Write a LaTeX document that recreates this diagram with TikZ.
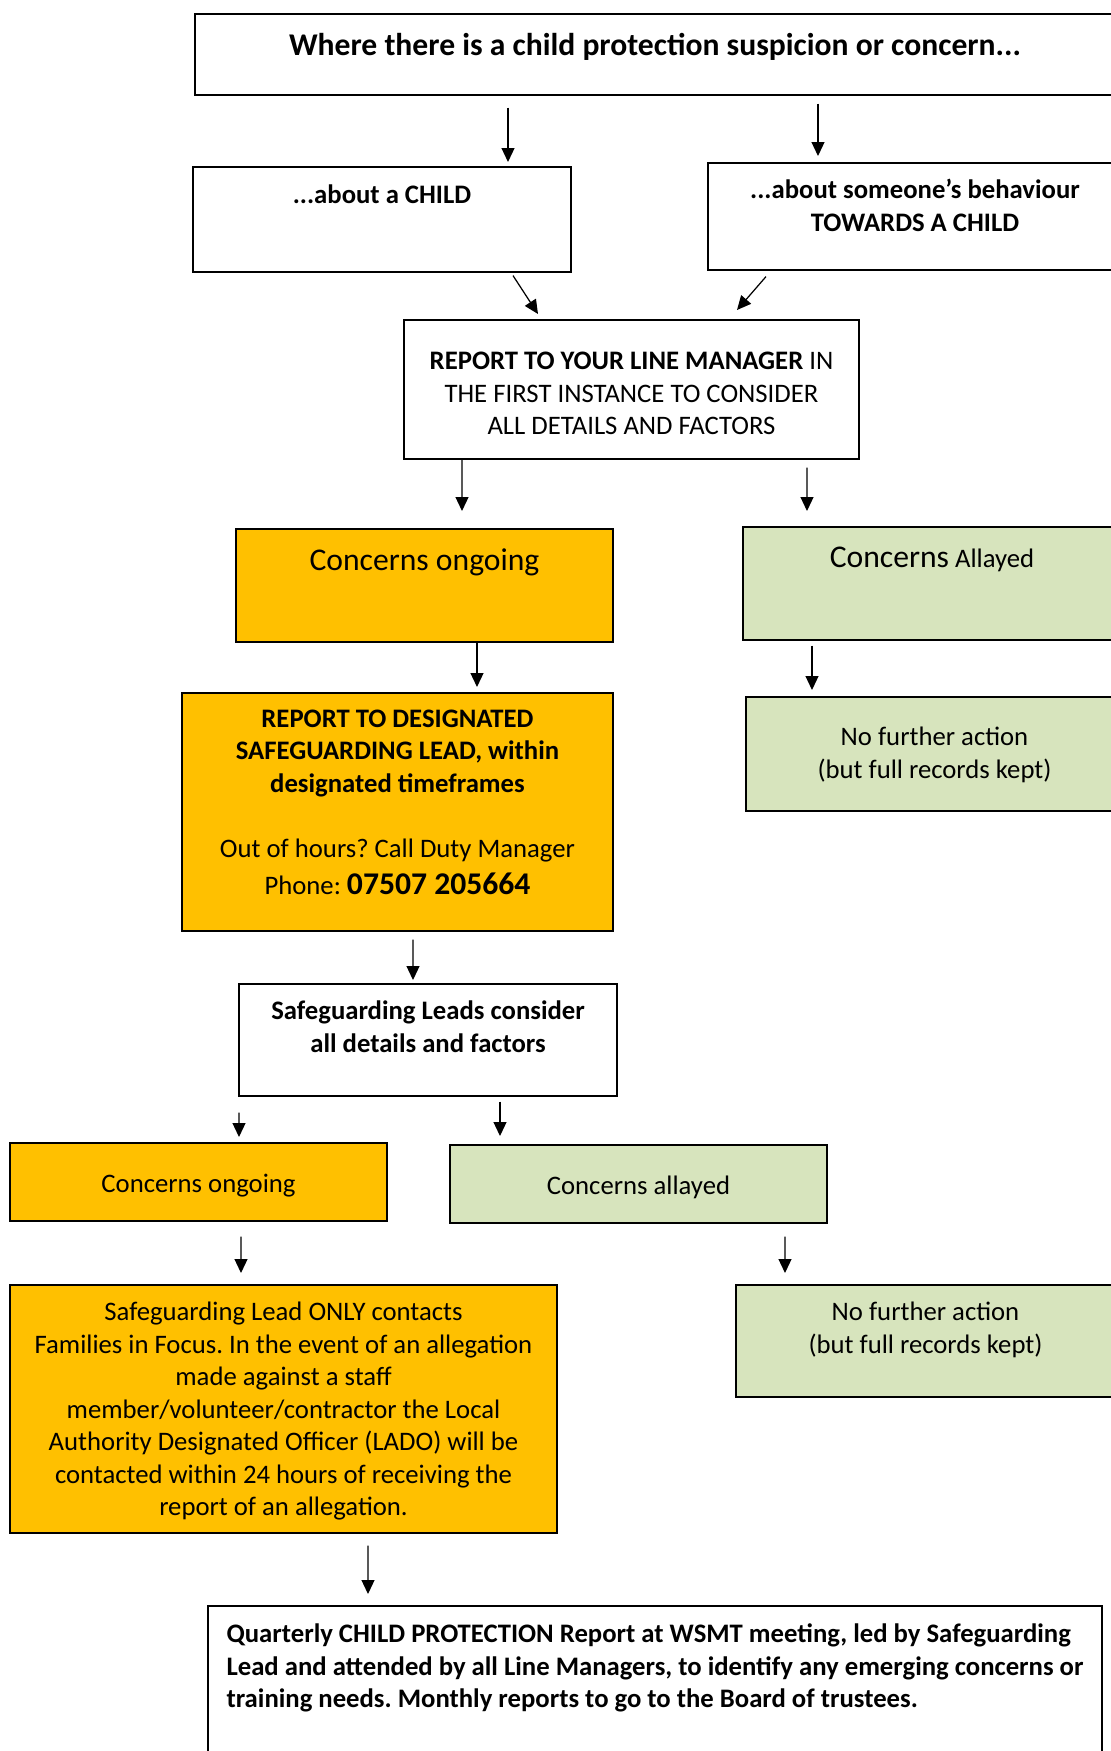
\documentclass[tikz,border=0pt]{standalone}
\usepackage{fontspec}
\setmainfont{Carlito}
\usetikzlibrary{arrows.meta, calc}
\definecolor{SafeOrange}{HTML}{FFC000}
\definecolor{SafeGreen}{HTML}{D7E4BD}
\newlength{\px}
\setlength{\px}{0.02cm}
\newcommand{\bodyfont}{\fontsize{15.2pt}{18.5pt}\selectfont}
\newcommand{\bigfont}{\fontsize{18pt}{22pt}\selectfont}
\newcommand{\titlefont}{\fontsize{18pt}{22pt}\selectfont}
\frenchspacing
\tikzset{
    % Box styles with sharp corners
    box/.style={
        rectangle,
        draw=black,
        fill=white,
        line width=0.9pt,
        inner xsep=4pt,
        inner ysep=0pt,
        anchor=north,
        align=center,
        font=\bodyfont
    },
    box orange/.style={
        box,
        fill=SafeOrange
    },
    box green/.style={
        box,
        fill=SafeGreen
    },
    arrow style/.style={
        -{Triangle[length=0.28cm, width=0.26cm]},
        line width=0.7pt,
        black
    }
}
\begin{document}
\begin{tikzpicture}[x=0.02cm, y=-0.02cm]
        \useasboundingbox (0,0) rectangle (1111,1751);

        % First report
        \node[box, minimum width=920\px, text height=42\px, text depth=39\px, font=\titlefont\bfseries] (suspicion) at (655,13) {Where there is a child protection suspicion or concern...};

        \node[box, minimum width=378\px, text height=37\px, text depth=68\px, font=\bodyfont\bfseries] (child) at (382,166) {...about a CHILD};
        \node[box, minimum width=414\px, text height=68.5\px, text depth=38.5\px, font=\bodyfont\bfseries] (behaviour) at (915,162) {...about someone’s behaviour\\TOWARDS A CHILD};
        \node[box, minimum width=455\px, text height=115\px, text depth=24\px] (linemanager) at (631.5,319) {\textbf{REPORT TO YOUR LINE MANAGER} IN\\THE FIRST INSTANCE TO CONSIDER\\ALL DETAILS AND FACTORS};

        \draw[arrow style] ($(suspicion.south)+(-147,12)$) -- ($(child.north)+(126,-4)$);
        \draw[arrow style] ($(suspicion.south)+(163,8)$) -- ($(behaviour.north)+(-97,-6)$);
        \draw[arrow style] ($(child.south)+(131,3)$) -- ($(linemanager.north)+(-93.5,-5)$);
        \draw[arrow style] ($(behaviour.south)+(-149,6)$) -- ($(linemanager.north)+(105.5,-9)$);

        % Line manager outcome
        \node[box orange, minimum width=377\px, text height=42\px, text depth=71\px, font=\bigfont] (ongoing-a) at (424.5,528) {Concerns ongoing};
        \node[box green, minimum width=378\px, text height=41\px, text depth=72\px] (allayed-a) at (932,526) {{\bigfont Concerns} Allayed};
        \node[box orange, minimum width=431\px, text height=202\px, text depth=36\px] (dsl) at (397.5,692) {\textbf{REPORT TO DESIGNATED}\\\textbf{SAFEGUARDING LEAD, within}\\\textbf{designated timeframes}\\[18.5pt]Out of hours? Call Duty Manager\\[3pt]Phone: {\bigfont\bfseries 07507 205664}};
        \node[box green, minimum width=377\px, text height=81.5\px, text depth=32.5\px] (nfa-a) at (934.5,696) {No further action\\(but full records kept)};

        \draw[arrow style] ($(linemanager.south)+(-169.5,0)$) -- ($(ongoing-a.north)+(37.5,-17)$);
        \draw[arrow style] ($(linemanager.south)+(175.5,8)$) -- ($(allayed-a.north)+(-125,-15)$);
        \draw[arrow style] ($(ongoing-a.south)+(52.5,0)$) -- ($(dsl.north)+(79.5,-5)$);
        \draw[arrow style] ($(allayed-a.south)+(-120,5)$) -- ($(nfa-a.north)+(-122.5,-6)$);

        % Safeguarding lead outcome
        \node[box, minimum width=378\px, text height=68.5\px, text depth=43.5\px, font=\bodyfont\bfseries] (leads) at (428,983) {Safeguarding Leads consider\\all details and factors};
        \node[box orange, minimum width=377\px, text height=50\px, text depth=28\px] (ongoing-b) at (198.5,1142) {Concerns ongoing};
        \node[box green, minimum width=377\px, text height=50\px, text depth=28\px] (allayed-b) at (638.5,1144) {Concerns allayed};
        \node[box orange, minimum width=547\px, text height=231\px, text depth=17\px] (lado) at (283.5,1284) {Safeguarding Lead ONLY contacts\\Families in Focus. In the event of an allegation\\made against a staff\\member/volunteer/contractor the Local\\Authority Designated Officer (LADO) will be\\contacted within 24 hours of receiving the\\report of an allegation.};
        \node[box green, minimum width=379\px, text height=68.5\px, text depth=43.5\px] (nfa-b) at (925.5,1284) {No further action\\(but full records kept)};
        \node[box, minimum width=894\px, align=left, text height=102\px, text depth=73\px, font=\bodyfont\bfseries] (quarterly) at (655,1605) {Quarterly CHILD PROTECTION Report at WSMT meeting, led by Safeguarding\\Lead and attended by all Line Managers, to identify any emerging concerns or\\training needs. Monthly reports to go to the Board of trustees.};

        \draw[arrow style] ($(dsl.south)+(15.5,8)$) -- ($(leads.north)+(-15,-3)$);
        \draw[arrow style] ($(leads.south)+(-189,16)$) -- ($(ongoing-b.north)+(40.5,-5)$);
        \draw[arrow style] ($(leads.south)+(72,5)$) -- ($(allayed-b.north)+(-138.5,-8)$);
        \draw[arrow style] ($(ongoing-b.south)+(42.5,15)$) -- ($(lado.north)+(-42.5,-11)$);
        \draw[arrow style] ($(allayed-b.south)+(146.5,13)$) -- ($(nfa-b.north)+(-140.5,-11)$);
        \draw[arrow style] ($(lado.south)+(84.5,12)$) -- ($(quarterly.north)+(-287,-11)$);
    \end{tikzpicture}
\end{document}
